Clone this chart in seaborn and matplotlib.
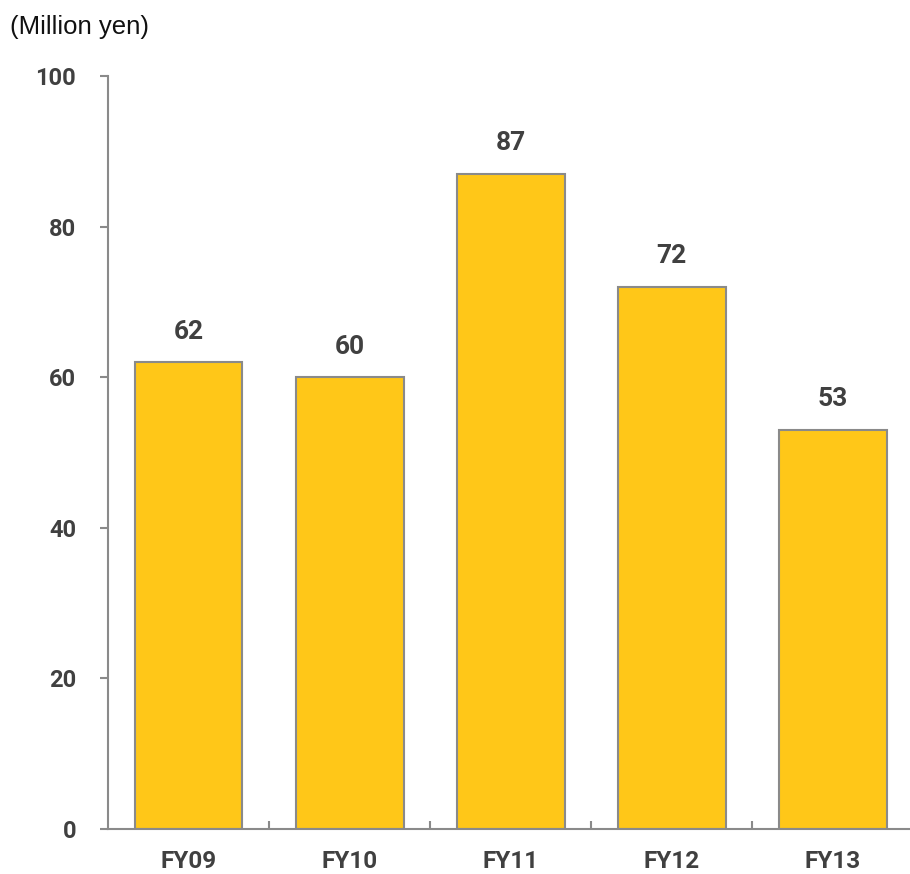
import matplotlib
matplotlib.use("Agg")
import matplotlib.pyplot as plt
import seaborn as sns
import pandas as pd

categories = ["FY09", "FY10", "FY11", "FY12", "FY13"]
values = [62, 60, 87, 72, 53]
y_ticks = [0, 20, 40, 60, 80, 100]

df = pd.DataFrame({"year": categories, "amount": values})

sns.set_style("white")
plt.rcParams["font.family"] = ["Roboto", "DejaVu Sans"]

fig = plt.figure(figsize=(9.10, 8.74), dpi=100)
ax = fig.add_axes([108 / 910, (874 - 829) / 874, (910 - 108) / 910, (829 - 76) / 874])

sns.barplot(data=df, x="year", y="amount", color="#FFC718", width=0.67,
            edgecolor="#8a8a8a", linewidth=1.5, saturation=1, ax=ax)

ax.set_xlim(-0.5, 4.48)
ax.set_ylim(0, 100)
ax.set_yticks(y_ticks)
ax.set_xlabel("")
ax.set_ylabel("")

for s in ["top", "right"]:
    ax.spines[s].set_visible(False)
for s in ["left", "bottom"]:
    ax.spines[s].set_color("#8a8a8a")
    ax.spines[s].set_linewidth(1.5)

text_color = "#404040"
ax.tick_params(axis="y", direction="out", length=6, width=1.5, color="#8a8a8a",
               pad=17, labelsize=17, labelcolor=text_color, left=True)
ax.tick_params(axis="x", which="major", length=0, pad=15, labelsize=17.5,
               labelcolor=text_color)
for lbl in ax.get_xticklabels() + ax.get_yticklabels():
    lbl.set_fontweight("bold")

ax.set_xticks([0.5, 1.5, 2.5, 3.5], minor=True)
ax.tick_params(axis="x", which="minor", direction="in", length=6, width=1.5,
               color="#8a8a8a", bottom=True)

for i, v in enumerate(values):
    ax.annotate(f"{v}", (i, v), xytext=(0, 22), textcoords="offset points",
                ha="center", va="center", fontsize=19, fontweight="bold",
                color=text_color)

fig.text(10 / 910, 1 - 27 / 874, "(Million yen)", ha="left", va="center",
         fontsize=18.5, color="#111111", family=["Liberation Sans", "DejaVu Sans"])

fig.savefig("out.png", dpi=100)
